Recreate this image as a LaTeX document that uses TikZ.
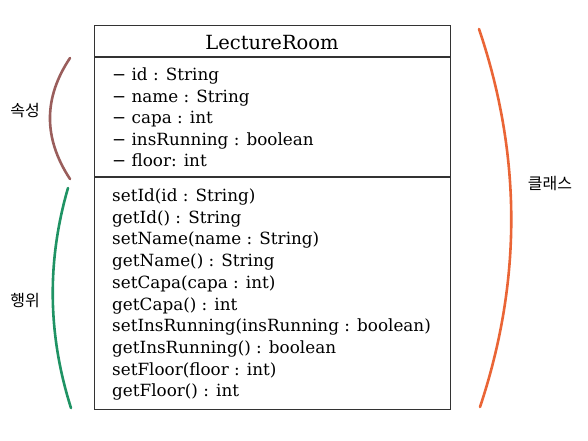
\documentclass[tikz,border=0pt]{standalone}
\usepackage{fontspec}
\setmainfont{DejaVu Serif}
\newfontfamily\krfont{Noto Sans CJK KR}
\definecolor{boxline}{HTML}{333333}
\definecolor{attrarc}{HTML}{9A5E5C}
\definecolor{operarc}{HTML}{1F9364}
\definecolor{classarc}{HTML}{EA6536}
\tikzset{
  member/.style={anchor=base west, inner sep=0pt, font=\fontsize{16.8}{20}\selectfont},
  titletext/.style={anchor=base, inner sep=0pt, font=\fontsize{19.5}{22}\selectfont},
  krlabel/.style={inner sep=0pt, font=\krfont\fontsize{16}{18}\selectfont},
  bracearc/.style={line width=2.6pt, line cap=round},
  boxrule/.style={draw=boxline, line width=1.3pt}
}
\begin{document}
\begin{tikzpicture}[x=1pt,y=-1pt]
\useasboundingbox (0,0) rectangle (588,440);
% class box
\node[boxrule, minimum width=356pt, minimum height=384pt, inner sep=0pt, anchor=north west] (cls) at (94,25) {};
\coordinate (d1l) at (94,57); \coordinate (d1r) at (450,57);
\coordinate (d2l) at (94,177); \coordinate (d2r) at (450,177);
\draw[boxrule] (d1l) -- (d1r);
\draw[boxrule] (d2l) -- (d2r);
\node[titletext] (title) at (272,49) {LectureRoom};
% attributes
\foreach \t [count=\i] in {{− id : String},{− name : String},{− capa : int},{− insRunning : boolean},{− floor: int}}
  \node[member] (a\i) at (112,{80.5+21.5*(\i-1)}) {\t};
% operations
\foreach \t [count=\i] in {{setId(id : String)},{getId() : String},{setName(name : String)},{getName() : String},{setCapa(capa : int)},{getCapa() : int},{setInsRunning(insRunning : boolean)},{getInsRunning() : boolean},{setFloor(floor : int)},{getFloor() : int}}
  \node[member] (m\i) at (112,{201.5+21.7*(\i-1)}) {\t};
% braces
\coordinate (b1s) at (70,58); \coordinate (b1e) at (70,179);
\coordinate (b2s) at (68,188); \coordinate (b2e) at (71,408);
\coordinate (b3s) at (479,29); \coordinate (b3e) at (480,407);
\draw[bracearc, attrarc] (b1s) .. controls (43.3,98) and (43.3,138.3) .. (b1e);
\draw[bracearc, operarc] (b2s) .. controls (46.7,261.3) and (47.7,334.7) .. (b2e);
\draw[bracearc, classarc] (b3s) .. controls (521.7,155) and (522,281) .. (b3e);
\node[krlabel] (attrlabel) at (25,111) {속성};
\node[krlabel] (operlabel) at (25,300) {행위};
\node[krlabel] (classlabel) at (550,184) {클래스};
\end{tikzpicture}
\end{document}
